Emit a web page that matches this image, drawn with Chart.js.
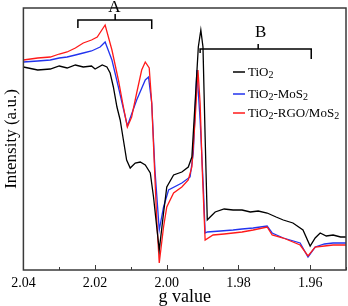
<!DOCTYPE html>
<html>
<head>
<meta charset="utf-8">
<script src="https://cdn.jsdelivr.net/npm/chart.js@4.4.0/dist/chart.umd.min.js"></script>
<style>
  html, body { margin: 0; padding: 0; background: #fff; }
  #wrap { width: 348px; height: 306px; }
</style>
</head>
<body>
<div id="wrap"><canvas id="epr"></canvas></div>
<script>
// g values and intensities (a.u.)
const tio2G = [2.040, 2.0360, 2.0325, 2.0300, 2.0278, 2.0255, 2.0233, 2.0210, 2.0200, 2.0180, 2.0167, 2.0158, 2.0149, 2.0139, 2.0130, 2.0121, 2.0112, 2.0102, 2.0088, 2.0074, 2.0060, 2.0046, 2.0037, 2.0028, 2.0021, 2.0009, 2.0000, 1.9981, 1.9958, 1.9940, 1.9930, 1.9921, 1.9912, 1.9905, 1.9899, 1.9893, 1.9887, 1.9879, 1.9865, 1.9840, 1.9815, 1.9790, 1.9767, 1.9745, 1.9720, 1.9695, 1.9675, 1.9648, 1.9620, 1.9600, 1.9586, 1.9572, 1.9555, 1.9536, 1.9515, 1.9500];
const tio2I = [203, 200, 201, 204, 202, 205, 203, 204, 201, 205, 203, 197, 183, 163, 150, 130, 110, 102, 107, 108, 105, 97, 73, 43, 20, 57, 83, 95, 98, 103, 113, 167, 223, 240, 223, 133, 50, 53, 58, 61, 60, 60, 58, 59, 57, 53, 50, 47, 40, 24, 32, 37, 34, 35, 33, 33];

const mos2G = [2.040, 2.0360, 2.0325, 2.0300, 2.0278, 2.0255, 2.0233, 2.0210, 2.0186, 2.0172, 2.0153, 2.0135, 2.0110, 2.0084, 2.0060, 2.0051, 2.0042, 2.0033, 2.0021, 2.0009, 1.9995, 1.9958, 1.9935, 1.9926, 1.9916, 1.9907, 1.9898, 1.9893, 1.9887, 1.9850, 1.9815, 1.9790, 1.9759, 1.9720, 1.9706, 1.9675, 1.9628, 1.9606, 1.9586, 1.9560, 1.9536, 1.9500];
const mos2I = [208, 209, 210, 212, 213, 215, 217, 219, 223, 228, 210, 183, 144, 170, 190, 193, 167, 100, 40, 63, 80, 87, 93, 117, 200, 150, 83, 37, 38, 39, 40, 41, 42, 44, 37, 32, 27, 13, 23, 26, 27, 27];

const rgoG = [2.040, 2.0360, 2.0325, 2.0300, 2.0278, 2.0255, 2.0233, 2.0210, 2.0194, 2.0172, 2.0153, 2.0135, 2.0121, 2.0110, 2.0098, 2.0084, 2.0070, 2.0060, 2.0049, 2.0042, 2.0034, 2.0028, 2.0021, 2.0009, 2.0000, 1.9981, 1.9958, 1.9940, 1.9930, 1.9921, 1.9913, 1.9907, 1.9901, 1.9893, 1.9871, 1.9840, 1.9815, 1.9790, 1.9759, 1.9720, 1.9706, 1.9675, 1.9628, 1.9606, 1.9586, 1.9560, 1.9536, 1.9500];
const rgoI = [210, 212, 213, 216, 218, 222, 227, 230, 233, 245, 220, 190, 163, 143, 153, 177, 200, 208, 202, 167, 100, 50, 7, 43, 63, 77, 83, 90, 103, 150, 200, 167, 100, 30, 35, 36, 37, 38, 40, 43, 35, 32, 25, 14, 23, 24, 25, 25];

const legendNames = [['TiO', '2'], ['TiO', '2', '-MoS', '2'], ['TiO', '2', '-RGO/MoS', '2']];
const legendColors = ['#000000', '#2233ee', '#ff1a1a'];

function pts(xs, ys) {
    return xs.map((x, i) => ({ x: x, y: ys[i] }));
}

const serif = '"Liberation Serif", "DejaVu Serif", serif';

// frame, inward ticks, A/B brackets and the legend
const decor = {
    id: 'decor',
    afterDatasetsDraw(chart) {
        const ctx = chart.ctx;
        const a = chart.chartArea;
        const xs = chart.scales.x;
        const ys = chart.scales.y;
        ctx.save();

        ctx.strokeStyle = '#3a3a3a';
        ctx.lineWidth = 1.5;
        ctx.strokeRect(a.left, a.top, a.right - a.left, a.bottom - a.top);

        // ticks point into the plot
        ctx.lineWidth = 1;
        xs.ticks.forEach(t => {
            const px = Math.round(xs.getPixelForValue(t.value)) + 0.5;
            const major = Math.round(t.value * 100) % 2 === 0;
            ctx.beginPath();
            ctx.moveTo(px, a.bottom);
            ctx.lineTo(px, a.bottom - (major ? 5 : 3));
            ctx.stroke();
        });

        // brackets
        ctx.strokeStyle = '#000';
        ctx.lineWidth = 1.5;
        const gx = g => xs.getPixelForValue(g);
        const iy = v => ys.getPixelForValue(v);

        ctx.beginPath();
        ctx.moveTo(gx(2.0248), iy(242));
        ctx.lineTo(gx(2.0248), iy(250));
        ctx.lineTo(gx(2.0042), iy(250));
        ctx.lineTo(gx(2.0042), iy(241));
        ctx.moveTo(gx(2.0144), iy(250));
        ctx.lineTo(gx(2.0144), iy(256));
        ctx.stroke();

        ctx.beginPath();
        ctx.moveTo(gx(1.9907), iy(217));
        ctx.lineTo(gx(1.9907), iy(221));
        ctx.lineTo(gx(1.9597), iy(221));
        ctx.lineTo(gx(1.9597), iy(211));
        ctx.moveTo(gx(1.9745), iy(221));
        ctx.lineTo(gx(1.9745), iy(226));
        ctx.stroke();

        ctx.fillStyle = '#000';
        ctx.font = '17px ' + serif;
        ctx.textAlign = 'center';
        ctx.textBaseline = 'middle';
        ctx.fillText('A', gx(2.0146), iy(262));
        ctx.fillText('B', gx(1.9738), iy(237));

        // legend
        ctx.textAlign = 'left';
        ctx.textBaseline = 'alphabetic';
        const rows = [72, 94, 113];
        legendNames.forEach((parts, i) => {
            const y = rows[i];
            ctx.strokeStyle = legendColors[i];
            ctx.lineWidth = 1.5;
            ctx.beginPath();
            ctx.moveTo(233, y);
            ctx.lineTo(245, y);
            ctx.stroke();
            let x = 248;
            parts.forEach((p, k) => {
                const sub = k % 2 === 1;
                ctx.font = (sub ? '10px ' : '13px ') + serif;
                ctx.fillText(p, x, y + (sub ? 6 : 4));
                x += ctx.measureText(p).width;
            });
        });

        ctx.restore();
    }
};

new Chart(document.getElementById('epr'), {
    type: 'line',
    data: {
        datasets: [
            { label: 'TiO2', data: pts(tio2G, tio2I), borderColor: legendColors[0] },
            { label: 'TiO2-RGO/MoS2', data: pts(rgoG, rgoI), borderColor: legendColors[2] },
            { label: 'TiO2-MoS2', data: pts(mos2G, mos2I), borderColor: legendColors[1] }
        ]
    },
    options: {
        responsive: true,
        maintainAspectRatio: false,
        animation: false,
        elements: {
            line: { borderWidth: 1.3, tension: 0 },
            point: { radius: 0 }
        },
        layout: { padding: { top: 8, right: 2, bottom: 0, left: 0 } },
        scales: {
            x: {
                type: 'linear',
                reverse: true,
                min: 1.95,
                max: 2.04,
                grid: { display: false, drawTicks: false, tickLength: 0 },
                border: { display: false },
                afterFit: s => { s.paddingLeft = 0; s.paddingRight = 0; },
                ticks: {
                    stepSize: 0.01,
                    autoSkip: false,
                    maxRotation: 0,
                    padding: 5,
                    color: '#000',
                    font: { family: serif, size: 14 },
                    callback: v => Math.round(v * 100) % 2 === 0 ? v.toFixed(2) : ''
                },
                title: {
                    display: true,
                    text: 'g value',
                    color: '#000',
                    font: { family: serif, size: 18 },
                    padding: { top: -10.4, bottom: -2 }
                }
            },
            y: {
                min: 0,
                max: 262,
                grid: { display: false, drawTicks: false, tickLength: 0 },
                border: { display: false },
                ticks: { display: false },
                title: {
                    display: true,
                    text: 'Intensity (a.u.)',
                    color: '#000',
                    font: { family: serif, size: 17 },
                    padding: { top: 1, bottom: 2 }
                }
            }
        },
        plugins: {
            legend: { display: false },
            tooltip: { enabled: false }
        }
    },
    plugins: [decor]
});
</script>
</body>
</html>
